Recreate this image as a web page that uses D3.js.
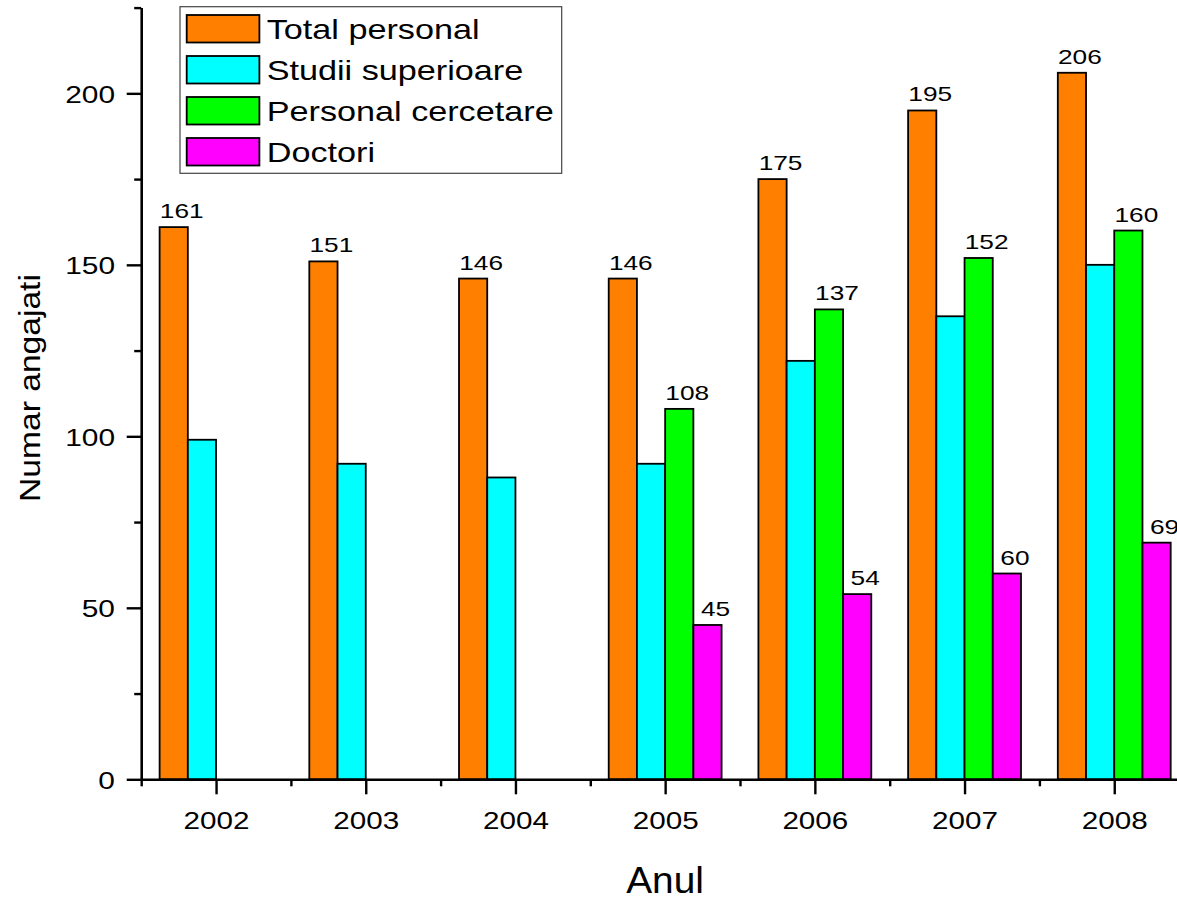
<!DOCTYPE html>
<html>
<head>
<meta charset="utf-8">
<script src="https://cdn.jsdelivr.net/npm/d3@7"></script>
<style>
  html, body { margin: 0; padding: 0; background: #fff; }
  svg { display: block; font-family: "Liberation Sans", Arial, sans-serif; }
</style>
</head>
<body>
<div id="chart"></div>
<script>
// data
const years = [2002, 2003, 2004, 2005, 2006, 2007, 2008];
const totalPersonal = [161, 151, 146, 146, 175, 195, 206];
const studiiSuperioare = [99, 92, 88, 92, 122, 135, 150];
const personalCercetare = [null, null, null, 108, 137, 152, 160];
const doctori = [null, null, null, 45, 54, 60, 69];

const seriesNames = ['Total personal', 'Studii superioare', 'Personal cercetare', 'Doctori'];
const seriesValues = [totalPersonal, studiiSuperioare, personalCercetare, doctori];
const seriesColors = ['#ff8000', '#00ffff', '#00ff00', '#ff00ff'];
const seriesLabeled = [true, false, true, true];

const yMajorTicks = [0, 50, 100, 150, 200];
const yMinorTicks = [25, 75, 125, 175, 225];
const xMinorTicks = [2001.5, 2002.5, 2003.5, 2004.5, 2005.5, 2006.5, 2007.5, 2008.5];

const width = 1177, height = 897;
const box = { left: 141.2, top: 7.6, bottom: 779.3, right: 141.2 + 7 * 149.7 };

const svg = d3.select('#chart').append('svg')
    .attr('width', width)
    .attr('height', height)
    .attr('viewBox', [0, 0, width, height]);

const x = d3.scaleLinear().domain([2001.5, 2008.5]).range([box.left, box.right]);
const y = d3.scaleLinear().domain([0, 225]).range([box.bottom, box.top]);

// bars inside a year group
const groupHalf = 0.377;
const sub = d3.scaleBand().domain(d3.range(seriesNames.length)).range([-groupHalf, groupHalf]);

// flatten to rows
const rows = [];
seriesValues.forEach((vals, s) => {
    vals.forEach((v, i) => {
        if (v != null) rows.push({ s, year: years[i], value: v });
    });
});

const barsG = svg.append('g').attr('class', 'bars');
barsG.selectAll('rect')
    .data(rows)
    .join('rect')
    .attr('x', d => x(d.year + sub(d.s)))
    .attr('y', d => y(d.value))
    .attr('width', d => x(d.year + sub(d.s) + sub.bandwidth()) - x(d.year + sub(d.s)))
    .attr('height', d => y(0) - y(d.value))
    .attr('fill', d => seriesColors[d.s])
    .attr('stroke', '#000')
    .attr('stroke-width', 1.8);

// value labels
barsG.selectAll('text')
    .data(rows.filter(d => seriesLabeled[d.s]))
    .join('text')
    .attr('text-anchor', 'middle')
    .attr('font-size', 21)
    .attr('fill', '#000')
    .attr('transform', d => {
        const cx = x(d.year + sub(d.s) + sub.bandwidth() / 2) + 8;
        return `translate(${cx},${y(d.value) - 9}) scale(1.25,1)`;
    })
    .text(d => d.value);

// axes
const axisStyle = g => g
    .call(g => g.selectAll('line').attr('stroke', '#000').attr('stroke-width', 2.4))
    .call(g => g.select('.domain').attr('stroke', '#000').attr('stroke-width', 2.6));

const yAxis = d3.axisLeft(y).tickValues(yMajorTicks).tickSize(14.5).tickSizeOuter(0);
svg.append('g')
    .attr('transform', `translate(${box.left},0)`)
    .call(yAxis)
    .call(axisStyle)
    .call(g => g.selectAll('.tick text')
        .attr('x', 0)
        .attr('dy', '0.36em')
        .attr('font-size', 24.5)
        .attr('font-family', '"Liberation Sans", Arial, sans-serif')
        .attr('fill', '#000')
        .attr('transform', 'translate(-26.2,0) scale(1.22,1)'));

svg.append('g')
    .attr('transform', `translate(${box.left},0)`)
    .call(d3.axisLeft(y).tickValues(yMinorTicks).tickSize(7).tickSizeOuter(0).tickFormat(''))
    .call(axisStyle)
    .call(g => g.select('.domain').remove());

const xAxis = d3.axisBottom(x).tickValues(years).tickSize(15).tickSizeOuter(0).tickFormat(d3.format('d'));
svg.append('g')
    .attr('transform', `translate(0,${box.bottom})`)
    .call(xAxis)
    .call(axisStyle)
    .call(g => g.selectAll('.tick text')
        .attr('y', 0)
        .attr('dy', 0)
        .attr('font-size', 24.5)
        .attr('font-family', '"Liberation Sans", Arial, sans-serif')
        .attr('fill', '#000')
        .attr('transform', 'translate(0,50) scale(1.21,1)'));

svg.append('g')
    .attr('transform', `translate(0,${box.bottom})`)
    .call(d3.axisBottom(x).tickValues(xMinorTicks).tickSize(7).tickSizeOuter(0).tickFormat(''))
    .call(axisStyle)
    .call(g => g.select('.domain').remove());

// axis titles
svg.append('text')
    .attr('text-anchor', 'middle')
    .attr('font-size', 30)
    .attr('transform', `translate(40,388) rotate(-90) scale(1.12,1)`)
    .text('Numar angajati');

svg.append('text')
    .attr('text-anchor', 'middle')
    .attr('font-size', 37)
    .attr('transform', `translate(665,892.7) scale(1.05,1)`)
    .text('Anul');

// legend
const legend = svg.append('g').attr('class', 'legend');
legend.append('rect')
    .attr('x', 180).attr('y', 6.7)
    .attr('width', 381.7).attr('height', 166.6)
    .attr('fill', '#fff')
    .attr('stroke', '#444')
    .attr('stroke-width', 1.2);

const items = legend.selectAll('g.item')
    .data(seriesNames)
    .join('g')
    .attr('class', 'item')
    .attr('transform', (d, i) => `translate(0,${i * 41})`);

items.append('rect')
    .attr('x', 186.7).attr('y', 15)
    .attr('width', 72.7).attr('height', 27.5)
    .attr('fill', (d, i) => seriesColors[i])
    .attr('stroke', '#000')
    .attr('stroke-width', 1.8);

items.append('text')
    .attr('font-size', 27)
    .attr('fill', '#000')
    .attr('transform', 'translate(266.7,39.3) scale(1.267,1)')
    .text(d => d);
</script>
</body>
</html>
